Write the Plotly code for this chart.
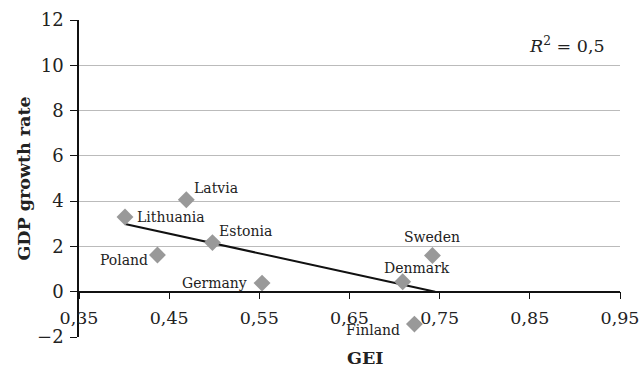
import plotly.graph_objects as go

# GEI index vs GDP growth rate by country
countries = ["Lithuania", "Latvia", "Estonia", "Poland", "Germany", "Sweden", "Denmark", "Finland"]
gei = [0.401, 0.469, 0.498, 0.437, 0.553, 0.742, 0.709, 0.722]
gdp_growth = [3.30, 4.06, 2.17, 1.62, 0.38, 1.60, 0.44, -1.43]

# Label placement per country: (anchor, x offset px, y offset px)
label_place = {
    "Lithuania": ("left", 10, 0),
    "Latvia": ("left", 6, 12),
    "Estonia": ("left", 5, 12),
    "Poland": ("right", -7, -5),
    "Germany": ("right", -13, 0),
    "Sweden": ("center", 0, 18),
    "Denmark": ("center", 14, 14),
    "Finland": ("right", -12, -6),
}

# Linear trend endpoints
trend_x = [0.401, 0.745]
trend_y = [2.99, 0.0]

x_ticks = [0.35, 0.45, 0.55, 0.65, 0.75, 0.85, 0.95]
y_ticks = [-2, 0, 2, 4, 6, 8, 10, 12]

serif = "DejaVu Serif"

fig = go.Figure()
fig.add_trace(go.Scatter(
    x=trend_x, y=trend_y, mode="lines",
    line=dict(color="#111111", width=2), hoverinfo="skip", showlegend=False,
))
fig.add_trace(go.Scatter(
    x=gei, y=gdp_growth, mode="markers",
    marker=dict(symbol="diamond", size=13, color="#999999"),
    showlegend=False,
))

annotations = []
for name, gx, gy in zip(countries, gei, gdp_growth):
    anchor, dx, dy = label_place[name]
    annotations.append(dict(
        text=name, x=gx, y=gy, xref="x", yref="y",
        xanchor=anchor, yanchor="middle", xshift=dx, yshift=dy,
        showarrow=False, font=dict(family=serif, size=14, color="#222222"),
    ))

annotations += [
    dict(text="<b>GEI</b>", xref="paper", yref="paper", x=0.528, y=-0.065,
         xanchor="center", yanchor="middle", showarrow=False,
         font=dict(family=serif, size=17.5, color="#222222")),
    dict(text="<i>R</i><sup>2</sup> = 0,5", xref="paper", yref="paper",
         x=0.976, y=0.92, xanchor="right", yanchor="middle", showarrow=False,
         font=dict(family=serif, size=17.5, color="#222222")),
]

fig.update_layout(
    width=642, height=367,
    margin=dict(l=79, r=22, t=20, b=30),
    plot_bgcolor="white", paper_bgcolor="white",
    separators=", ",
    font=dict(family=serif, color="#222222"),
    xaxis=dict(
        range=[0.35, 0.95], tickvals=x_ticks, tickformat=".2f",
        anchor="free", position=2 / 14, automargin=False,
        showgrid=False, zeroline=False,
        showline=True, linecolor="#111111", linewidth=1.5,
        ticks="outside", ticklen=7, tickcolor="#111111",
        ticklabelstandoff=4,
        tickfont=dict(family=serif, size=17.5, color="#222222"),
    ),
    yaxis=dict(
        range=[-2, 12], tickvals=y_ticks, domain=[0, 1], automargin=False,
        showgrid=True, gridcolor="#bbbbbb", gridwidth=1.2, zeroline=False,
        showline=True, linecolor="#111111", linewidth=1.5,
        ticks="outside", ticklen=7, tickcolor="#111111",
        ticklabelstandoff=3,
        tickfont=dict(family=serif, size=18, color="#222222"),
        title=dict(text="<b>GDP growth rate</b>", standoff=2,
                   font=dict(family=serif, size=17.5, color="#222222")),
    ),
    annotations=annotations,
)

fig.write_html("out.html")
